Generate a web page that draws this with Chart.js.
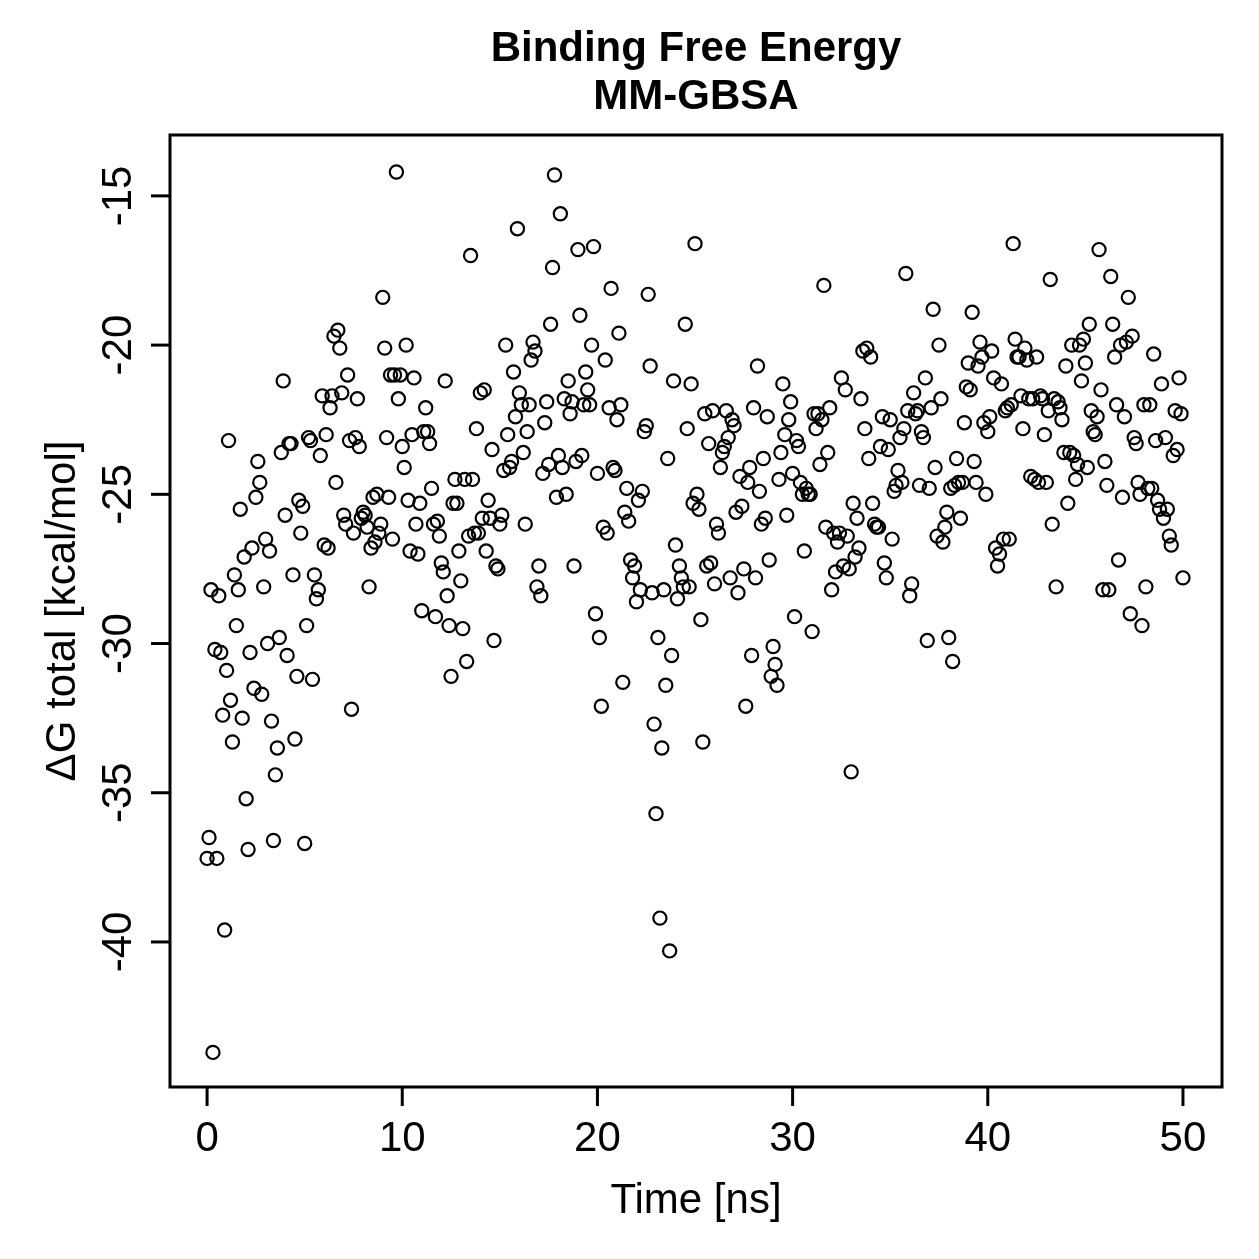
<!DOCTYPE html>
<html>
<head>
<meta charset="utf-8">
<title>Binding Free Energy MM-GBSA</title>
<script src="https://cdn.jsdelivr.net/npm/chart.js@4/dist/chart.umd.min.js"></script>
<style>
  html, body { margin: 0; padding: 0; background: #fff; }
  #chart { display: block; }
</style>
</head>
<body>
<canvas id="chart" width="1259" height="1259"></canvas>
<script>
// start: Data
const timeNs = [
  0,0.1,0.2,0.3,0.4,0.5,0.6,0.7,0.8,0.9,1,1.1,1.2,1.3,1.4,1.5,1.6,1.7,1.8,1.9,
  2,2.1,2.2,2.3,2.4,2.5,2.6,2.7,2.8,2.9,3,3.1,3.2,3.3,3.4,3.5,3.6,3.7,3.8,3.9,
  4,4.1,4.2,4.3,4.4,4.5,4.6,4.7,4.8,4.9,5,5.1,5.2,5.3,5.4,5.5,5.6,5.7,5.8,5.9,
  6,6.1,6.2,6.3,6.4,6.5,6.6,6.7,6.8,6.9,7,7.1,7.2,7.3,7.4,7.5,7.6,7.7,7.8,7.9,
  8,8.1,8.2,8.3,8.4,8.5,8.6,8.7,8.8,8.9,9,9.1,9.2,9.3,9.4,9.5,9.6,9.7,9.8,9.9,
  10,10.1,10.2,10.3,10.4,10.5,10.6,10.7,10.8,10.9,11,11.1,11.2,11.3,11.4,11.5,11.6,11.7,11.8,11.9,
  12,12.1,12.2,12.3,12.4,12.5,12.6,12.7,12.8,12.9,13,13.1,13.2,13.3,13.4,13.5,13.6,13.7,13.8,13.9,
  14,14.1,14.2,14.3,14.4,14.5,14.6,14.7,14.8,14.9,15,15.1,15.2,15.3,15.4,15.5,15.6,15.7,15.8,15.9,
  16,16.1,16.2,16.3,16.4,16.5,16.6,16.7,16.8,16.9,17,17.1,17.2,17.3,17.4,17.5,17.6,17.7,17.8,17.9,
  18,18.1,18.2,18.3,18.4,18.5,18.6,18.7,18.8,18.9,19,19.1,19.2,19.3,19.4,19.5,19.6,19.7,19.8,19.9,
  20,20.1,20.2,20.3,20.4,20.5,20.6,20.7,20.8,20.9,21,21.1,21.2,21.3,21.4,21.5,21.6,21.7,21.8,21.9,
  22,22.1,22.2,22.3,22.4,22.5,22.6,22.7,22.8,22.9,23,23.1,23.2,23.3,23.4,23.5,23.6,23.7,23.8,23.9,
  24,24.1,24.2,24.3,24.4,24.5,24.6,24.7,24.8,24.9,25,25.1,25.2,25.3,25.4,25.5,25.6,25.7,25.8,25.9,
  26,26.1,26.2,26.3,26.4,26.5,26.6,26.7,26.8,26.9,27,27.1,27.2,27.3,27.4,27.5,27.6,27.7,27.8,27.9,
  28,28.1,28.2,28.3,28.4,28.5,28.6,28.7,28.8,28.9,29,29.1,29.2,29.3,29.4,29.5,29.6,29.7,29.8,29.9,
  30,30.1,30.2,30.3,30.4,30.5,30.6,30.7,30.8,30.9,31,31.1,31.2,31.3,31.4,31.5,31.6,31.7,31.8,31.9,
  32,32.1,32.2,32.3,32.4,32.5,32.6,32.7,32.8,32.9,33,33.1,33.2,33.3,33.4,33.5,33.6,33.7,33.8,33.9,
  34,34.1,34.2,34.3,34.4,34.5,34.6,34.7,34.8,34.9,35,35.1,35.2,35.3,35.4,35.5,35.6,35.7,35.8,35.9,
  36,36.1,36.2,36.3,36.4,36.5,36.6,36.7,36.8,36.9,37,37.1,37.2,37.3,37.4,37.5,37.6,37.7,37.8,37.9,
  38,38.1,38.2,38.3,38.4,38.5,38.6,38.7,38.8,38.9,39,39.1,39.2,39.3,39.4,39.5,39.6,39.7,39.8,39.9,
  40,40.1,40.2,40.3,40.4,40.5,40.6,40.7,40.8,40.9,41,41.1,41.2,41.3,41.4,41.5,41.6,41.7,41.8,41.9,
  42,42.1,42.2,42.3,42.4,42.5,42.6,42.7,42.8,42.9,43,43.1,43.2,43.3,43.4,43.5,43.6,43.7,43.8,43.9,
  44,44.1,44.2,44.3,44.4,44.5,44.6,44.7,44.8,44.9,45,45.1,45.2,45.3,45.4,45.5,45.6,45.7,45.8,45.9,
  46,46.1,46.2,46.3,46.4,46.5,46.6,46.7,46.8,46.9,47,47.1,47.2,47.3,47.4,47.5,47.6,47.7,47.8,47.9,
  48,48.1,48.2,48.3,48.4,48.5,48.6,48.7,48.8,48.9,49,49.1,49.2,49.3,49.4,49.5,49.6,49.7,49.8,49.9,
  50
];

// dG total [kcal/mol], one value per frame
const dgTotal = [
  -37.2,-36.5,-28.2,-43.7,-30.2,-37.2,-28.4,-30.3,-32.4,-39.6,
  -30.9,-23.2,-31.9,-33.3,-27.7,-29.4,-28.2,-25.5,-32.5,-27.1,
  -35.2,-36.9,-30.3,-26.8,-31.5,-25.1,-23.9,-24.6,-31.7,-28.1,
  -26.5,-30.0,-26.9,-32.6,-36.6,-34.4,-33.5,-29.8,-23.6,-21.2,
  -25.7,-30.4,-23.3,-23.3,-27.7,-33.2,-31.1,-25.2,-26.3,-25.4,
  -36.7,-29.4,-23.1,-23.2,-31.2,-27.7,-28.5,-28.2,-23.7,-21.7,
  -26.7,-23.0,-26.8,-22.1,-21.7,-19.7,-24.6,-19.5,-20.1,-21.6,
  -25.7,-26.0,-21.0,-23.2,-32.2,-26.3,-23.1,-21.8,-23.4,-25.8,
  -25.6,-25.7,-26.1,-28.1,-26.8,-25.1,-26.6,-25.0,-26.3,-26.0,
  -18.4,-20.1,-23.1,-25.1,-21.0,-26.5,-21.0,-14.2,-21.8,-21.0,
  -23.4,-24.1,-20.0,-25.2,-26.9,-23.0,-21.1,-26.0,-27.0,-25.3,
  -28.9,-22.9,-22.1,-22.9,-23.3,-24.8,-26.0,-29.1,-25.9,-26.4,
  -27.3,-27.6,-21.2,-28.4,-29.4,-31.1,-25.3,-24.5,-25.3,-26.9,
  -27.9,-29.5,-24.5,-30.6,-26.4,-17.0,-24.5,-26.3,-22.8,-26.3,
  -21.6,-25.8,-21.5,-26.9,-25.2,-25.8,-23.5,-29.9,-27.4,-27.5,
  -26.0,-25.7,-24.2,-20.0,-23.0,-24.1,-23.9,-20.9,-22.4,-16.1,
  -21.6,-22.0,-23.6,-26.0,-22.9,-22.0,-20.5,-19.9,-20.2,-28.1,
  -27.4,-28.4,-24.3,-22.6,-21.9,-24.0,-19.3,-17.4,-14.3,-25.1,
  -23.7,-15.6,-24.1,-21.8,-25.0,-21.2,-22.3,-21.9,-27.4,-23.9,
  -16.8,-19.0,-23.7,-22.0,-20.9,-21.5,-22.0,-20.0,-16.7,-29.0,
  -24.3,-29.8,-32.1,-26.1,-20.5,-26.3,-22.1,-18.1,-24.1,-24.2,
  -22.5,-19.6,-22.0,-31.3,-25.6,-24.8,-25.9,-27.2,-27.8,-27.4,
  -28.6,-25.2,-28.2,-24.9,-22.9,-22.7,-18.3,-20.7,-28.3,-32.7,
  -35.7,-29.8,-39.2,-33.5,-28.2,-31.4,-23.8,-40.3,-30.4,-21.2,
  -26.7,-28.5,-27.4,-27.8,-28.1,-19.3,-22.8,-28.1,-21.3,-25.3,
  -16.6,-25.0,-25.5,-29.2,-33.3,-22.3,-27.4,-23.3,-27.3,-22.2,
  -28.0,-26.0,-26.3,-24.1,-23.6,-23.4,-22.2,-23.1,-27.8,-22.5,
  -22.7,-25.6,-28.3,-24.4,-25.4,-27.5,-32.1,-24.6,-24.1,-30.4,
  -22.1,-27.8,-20.7,-24.9,-26.0,-23.8,-25.8,-22.4,-27.2,-31.1,
  -30.1,-30.7,-31.4,-24.5,-23.6,-21.3,-23.0,-25.7,-22.5,-21.9,
  -24.3,-29.1,-23.2,-23.4,-24.6,-25.0,-26.9,-24.8,-25.0,-25.0,
  -29.6,-22.3,-22.8,-22.3,-24.0,-22.5,-18.0,-26.1,-23.6,-22.1,
  -28.2,-26.3,-27.6,-26.6,-26.3,-21.1,-27.4,-21.5,-26.4,-27.5,
  -34.3,-25.3,-27.1,-25.8,-26.8,-21.8,-20.2,-22.8,-20.1,-23.8,
  -20.4,-25.3,-26.0,-26.1,-26.1,-23.4,-22.4,-27.3,-27.8,-23.5,
  -22.5,-26.5,-24.9,-24.7,-24.2,-23.1,-24.6,-22.8,-17.6,-22.2,
  -28.4,-28.0,-21.6,-22.3,-22.2,-24.7,-22.9,-23.1,-21.1,-29.9,
  -24.8,-22.1,-18.8,-24.1,-26.4,-20.0,-21.8,-26.6,-26.1,-25.6,
  -29.8,-24.8,-30.6,-24.7,-23.8,-24.6,-25.8,-24.6,-22.6,-21.4,
  -20.6,-21.5,-18.9,-23.9,-24.6,-20.7,-19.9,-20.4,-22.6,-25.0,
  -22.9,-22.4,-20.2,-21.1,-26.8,-27.4,-27.0,-21.3,-26.5,-22.2,
  -22.1,-26.5,-22.0,-16.6,-19.8,-20.4,-20.4,-21.7,-22.8,-20.1,
  -20.5,-21.8,-24.4,-21.8,-24.5,-20.4,-24.6,-21.7,-21.8,-23.0,
  -24.6,-22.2,-17.8,-26.0,-21.8,-28.1,-21.9,-22.1,-22.5,-23.6,
  -20.7,-25.3,-23.6,-20.0,-23.7,-24.5,-24.0,-20.0,-21.2,-19.8,
  -20.6,-24.1,-19.3,-22.2,-22.9,-23.0,-22.4,-16.8,-21.5,-28.2,
  -23.9,-24.7,-28.2,-17.7,-19.3,-20.4,-22.0,-27.2,-20.0,-25.1,
  -22.4,-19.9,-18.4,-29.0,-19.7,-23.1,-23.3,-24.6,-25.0,-29.4,
  -22.0,-28.1,-24.8,-22.0,-24.8,-20.3,-23.2,-25.2,-25.5,-21.3,
  -25.8,-23.1,-25.5,-26.4,-26.7,-23.7,-22.2,-23.5,-21.1,-22.3,
  -27.8
];

const xTicks = [0, 10, 20, 30, 40, 50];
const yTicks = [-40, -35, -30, -25, -20, -15];
const titleLines = ["Binding Free Energy", "MM-GBSA"];
const xLabel = "Time [ns]";
const yLabel = "\u0394G total [kcal/mol]";
// end: Data

// start: R style axes
const FONT = "'Liberation Sans', Arial, Helvetica, sans-serif";

const rAxes = {
  id: "rAxes",
  afterDraw(chart) {
    const ctx = chart.ctx;
    const area = chart.chartArea;
    const xs = chart.scales.x;
    const ys = chart.scales.y;
    const tick = 19;

    ctx.save();
    ctx.strokeStyle = "#000";
    ctx.fillStyle = "#000";
    ctx.lineWidth = 3;
    ctx.strokeRect(area.left, area.top, area.right - area.left, area.bottom - area.top);

    // x axis
    ctx.font = "42px " + FONT;
    ctx.textAlign = "center";
    ctx.textBaseline = "alphabetic";
    xTicks.forEach(function (v) {
      const px = xs.getPixelForValue(v);
      ctx.beginPath();
      ctx.moveTo(px, area.bottom);
      ctx.lineTo(px, area.bottom + tick);
      ctx.stroke();
      ctx.fillText(String(v), px, 1151);
    });

    // y axis, labels turned like R's las = 0
    yTicks.forEach(function (v) {
      const py = ys.getPixelForValue(v);
      ctx.beginPath();
      ctx.moveTo(area.left, py);
      ctx.lineTo(area.left - tick, py);
      ctx.stroke();
      ctx.save();
      ctx.translate(131, py);
      ctx.rotate(-Math.PI / 2);
      ctx.fillText(String(v), 0, 0);
      ctx.restore();
    });

    // axis titles
    ctx.fillText(xLabel, (area.left + area.right) / 2, 1213);
    ctx.save();
    ctx.translate(75, (area.top + area.bottom) / 2);
    ctx.rotate(-Math.PI / 2);
    ctx.fillText(yLabel, 0, 0);
    ctx.restore();

    // main title
    ctx.font = "bold 42px " + FONT;
    ctx.fillText(titleLines[0], (area.left + area.right) / 2, 61);
    ctx.fillText(titleLines[1], (area.left + area.right) / 2, 109);
    ctx.restore();
  },
};
// end: R style axes

// start: Chart
new Chart(document.getElementById("chart"), {
  type: "scatter",
  data: {
    datasets: [
      {
        label: "dG total",
        data: timeNs.map(function (t, i) {
          return { x: t, y: dgTotal[i] };
        }),
        pointStyle: "circle",
        pointRadius: 6.6,
        pointBorderWidth: 2.2,
        pointBorderColor: "#000",
        pointBackgroundColor: "rgba(0,0,0,0)",
        showLine: false,
      },
    ],
  },
  options: {
    responsive: false,
    animation: false,
    devicePixelRatio: 1,
    layout: {
      padding: { left: 170, top: 135, right: 37, bottom: 172 },
    },
    plugins: {
      legend: { display: false },
      tooltip: { enabled: false },
      title: { display: false },
    },
    scales: {
      x: { type: "linear", min: -1.9, max: 52, display: false },
      y: { type: "linear", min: -44.86, max: -12.96, display: false },
    },
  },
  plugins: [rAxes],
});
// end: Chart
</script>
</body>
</html>
